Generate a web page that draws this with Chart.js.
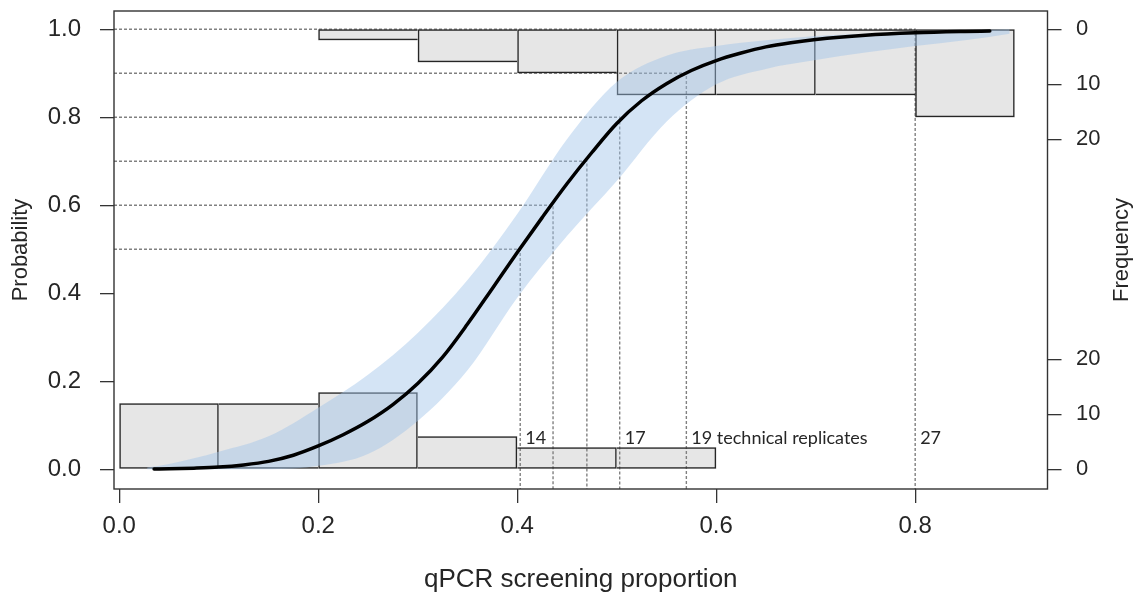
<!DOCTYPE html>
<html>
<head>
<meta charset="utf-8">
<script src="https://cdn.jsdelivr.net/npm/chart.js@4.4.1/dist/chart.umd.min.js"></script>
<style>
  html, body { margin: 0; padding: 0; background: #fff; }
  #wrap { width: 1137px; height: 608px; }
</style>
</head>
<body>
<div id="wrap"><canvas id="chart" width="1137" height="608"></canvas></div>
<script>
// Axis ticks
const propTicks = [0, 0.2, 0.4, 0.6, 0.8];
const probTicks = [0, 0.2, 0.4, 0.6, 0.8, 1.0];
const freqTicks = [0, 10, 20];

// Histogram of screening proportions: negatives (bottom) and positives (top)
const bottomBinStarts = [0.0, 0.1, 0.2, 0.3, 0.4, 0.5];
const bottomCounts = [12, 12, 14, 6, 4, 4];
const topBinStarts = [0.2, 0.3, 0.4, 0.5, 0.6, 0.7, 0.8];
const topCounts = [2, 6, 8, 12, 12, 12, 16];

// Fitted probability curve
const fitProp = [0.035, 0.05, 0.075, 0.1, 0.125, 0.15, 0.175, 0.2, 0.225, 0.25, 0.275, 0.3,
  0.325, 0.35, 0.375, 0.4, 0.425, 0.45, 0.475, 0.5, 0.525, 0.55, 0.575, 0.6, 0.625, 0.65,
  0.675, 0.7, 0.75, 0.8, 0.85, 0.875];
const fitProb = [0.0005, 0.001, 0.0025, 0.005, 0.01, 0.018, 0.032, 0.053, 0.0785, 0.109, 0.147, 0.195,
  0.255, 0.33, 0.411, 0.4925, 0.572, 0.649, 0.72, 0.786, 0.8376, 0.8765, 0.9064, 0.929, 0.946, 0.96,
  0.9696, 0.977, 0.9866, 0.992, 0.995, 0.996];

// Confidence band around the curve
const bandProp = [0.028, 0.05, 0.1, 0.15, 0.2, 0.25, 0.3, 0.35, 0.4, 0.45, 0.5, 0.55,
  0.6, 0.65, 0.7, 0.75, 0.8, 0.85, 0.895];
const bandUpper = [0.004, 0.012, 0.04, 0.075, 0.14, 0.215, 0.31, 0.43, 0.58, 0.75, 0.88, 0.94,
  0.962, 0.975, 0.985, 0.99, 0.995, 0.998, 1.0];
const bandLower = [0.0, 0.0, 0.0, 0.0, 0.008, 0.035, 0.11, 0.225, 0.39, 0.53, 0.655, 0.79,
  0.875, 0.91, 0.93, 0.947, 0.962, 0.975, 0.99];

// Reference probabilities and the proportion where the curve reaches each
const refProb = [0.5, 0.6, 0.7, 0.8, 0.9, 1.0];
const refProp = [0.403, 0.436, 0.47, 0.503, 0.57, 0.8];
const replicateProp = [0.403, 0.503, 0.57, 0.8];
const replicateText = ['14', '17', '19 technical replicates', '27'];

const X_MIN = -0.0053;
const X_MAX = 0.933;
const Y_MIN = -0.0448;
const Y_MAX = 1.0416;
const FREQ_SCALE = 80; // histogram counts per unit of probability
const LABEL_PROB = 0.071;
const BIN_WIDTH = 0.1;

const AXIS_COLOR = '#333333';
const TEXT_COLOR = '#262626';
const FONT = "'Liberation Sans', Arial, sans-serif";

Chart.defaults.font.family = FONT;

const toBars = (starts, counts, fromTop) => starts.map((s, i) => ({
  x: s + BIN_WIDTH / 2,
  y: fromTop ? [FREQ_SCALE - counts[i], FREQ_SCALE] : [0, counts[i]]
}));

// Draw each shared edge once, on the taller of the two neighbours.
const outlineWidths = (counts, w) => (ctx) => {
  const i = ctx.dataIndex;
  const last = counts.length - 1;
  return {
    top: w,
    bottom: w,
    left: (i === 0 || counts[i - 1] < counts[i]) ? w : 0,
    right: (i === last || counts[i + 1] <= counts[i]) ? w : 0
  };
};

const barBase = {
  type: 'bar',
  yAxisID: 'yf',
  grouped: false,
  barPercentage: 1,
  categoryPercentage: 1,
  borderSkipped: false
};

const fillBars = (starts, counts, fromTop) => ({
  ...barBase,
  data: toBars(starts, counts, fromTop),
  backgroundColor: '#e6e6e6',
  borderWidth: 0,
  order: 6
});

const outlineBars = (starts, counts, fromTop) => ({
  ...barBase,
  data: toBars(starts, counts, fromTop),
  backgroundColor: 'rgba(0,0,0,0)',
  borderColor: '#262626',
  borderWidth: outlineWidths(counts, 1.5),
  inflateAmount: 0,
  order: 4
});

const refLines = refProb.map((p, i) => ({
  type: 'line',
  yAxisID: 'y',
  data: [{ x: X_MIN, y: p }, { x: refProp[i], y: p }, { x: refProp[i], y: Y_MIN }],
  borderColor: '#808080',
  borderWidth: 1.4,
  borderDash: [3, 2],
  pointRadius: 0,
  tension: 0,
  order: 5
}));

const bandColor = 'rgba(160, 196, 232, 0.45)';

const datasets = [
  fillBars(bottomBinStarts, bottomCounts, false),
  fillBars(topBinStarts, topCounts, true),
  ...refLines,
  outlineBars(bottomBinStarts, bottomCounts, false),
  outlineBars(topBinStarts, topCounts, true),
  {
    type: 'line',
    yAxisID: 'y',
    data: bandProp.map((x, i) => ({ x, y: bandUpper[i] })),
    borderColor: 'rgba(0,0,0,0)',
    borderWidth: 0,
    backgroundColor: bandColor,
    fill: '+1',
    pointRadius: 0,
    cubicInterpolationMode: 'monotone',
    order: 2
  },
  {
    type: 'line',
    yAxisID: 'y',
    data: bandProp.map((x, i) => ({ x, y: bandLower[i] })),
    borderColor: 'rgba(0,0,0,0)',
    borderWidth: 0,
    fill: false,
    pointRadius: 0,
    cubicInterpolationMode: 'monotone',
    order: 2
  },
  {
    type: 'line',
    yAxisID: 'y',
    data: fitProp.map((x, i) => ({ x, y: fitProb[i] })),
    borderColor: '#000000',
    borderWidth: 3.5,
    borderCapStyle: 'round',
    borderJoinStyle: 'round',
    pointRadius: 0,
    fill: false,
    cubicInterpolationMode: 'monotone',
    order: 1
  }
];

const fixedTicks = (values) => (scale) => {
  scale.ticks = values.map((value) => ({ value }));
};

const tickGrid = {
  drawOnChartArea: false,
  drawTicks: true,
  offset: false,
  tickLength: 14,
  color: AXIS_COLOR,
  lineWidth: 1.3
};

// White background, plot frame, replicate labels and the right-hand title.
const framePlugin = {
  id: 'frame',
  beforeDraw(chart) {
    const { ctx } = chart;
    ctx.save();
    ctx.fillStyle = '#ffffff';
    ctx.fillRect(0, 0, chart.width, chart.height);
    ctx.restore();
  },
  afterDatasetsDraw(chart) {
    const { ctx, chartArea: a, scales } = chart;
    ctx.save();
    ctx.strokeStyle = AXIS_COLOR;
    ctx.lineWidth = 1.4;
    ctx.strokeRect(a.left, a.top, a.right - a.left, a.bottom - a.top);

    ctx.fillStyle = TEXT_COLOR;
    ctx.font = "18px Lato, 'Open Sans', sans-serif";
    ctx.textBaseline = 'middle';
    ctx.textAlign = 'left';
    replicateProp.forEach((p, i) => {
      ctx.fillText(replicateText[i], scales.x.getPixelForValue(p) + 5, scales.y.getPixelForValue(LABEL_PROB));
    });
    ctx.restore();
  },
  afterDraw(chart) {
    const { ctx, chartArea: a } = chart;
    const yf = chart.scales.yf;
    ctx.save();
    ctx.translate(yf.right - 15, (a.top + a.bottom) / 2);
    ctx.rotate(-Math.PI / 2);
    ctx.fillStyle = TEXT_COLOR;
    ctx.font = `22px ${FONT}`;
    ctx.textAlign = 'center';
    ctx.textBaseline = 'middle';
    ctx.fillText('Frequency', 0, 0);
    ctx.restore();
  }
};

new Chart(document.getElementById('chart'), {
  type: 'line',
  data: { datasets },
  options: {
    responsive: false,
    animation: false,
    events: [],
    layout: { padding: { top: 11, left: 0, right: 0, bottom: 0 }, autoPadding: false },
    plugins: { legend: { display: false }, tooltip: { enabled: false } },
    scales: {
      x: {
        type: 'linear',
        position: 'bottom',
        min: X_MIN,
        max: X_MAX,
        offset: false,
        bounds: 'data',
        afterBuildTicks: fixedTicks(propTicks),
        afterFit: (s) => { s.height = 119; s.paddingLeft = 0; s.paddingRight = 0; },
        grid: tickGrid,
        border: { display: false },
        ticks: {
          autoSkip: false,
          maxRotation: 0,
          padding: 9,
          color: TEXT_COLOR,
          font: { size: 24 },
          callback: (v) => Number(v).toFixed(1)
        },
        title: {
          display: true,
          text: 'qPCR screening proportion',
          color: TEXT_COLOR,
          font: { size: 26 },
          padding: { top: 0, bottom: 13 }
        }
      },
      y: {
        type: 'linear',
        position: 'left',
        min: Y_MIN,
        max: Y_MAX,
        bounds: 'data',
        afterBuildTicks: fixedTicks(probTicks),
        afterFit: (s) => { s.width = 114; s.paddingTop = 0; s.paddingBottom = 0; },
        grid: tickGrid,
        border: { display: false },
        ticks: {
          autoSkip: false,
          padding: 19,
          color: TEXT_COLOR,
          font: { size: 24 },
          callback: (v) => Number(v).toFixed(1)
        },
        title: {
          display: true,
          text: 'Probability',
          color: TEXT_COLOR,
          font: { size: 22 },
          padding: { top: 8, bottom: 0 }
        }
      },
      yf: {
        type: 'linear',
        position: 'right',
        min: Y_MIN * FREQ_SCALE,
        max: Y_MAX * FREQ_SCALE,
        bounds: 'data',
        afterBuildTicks: fixedTicks([...freqTicks, ...freqTicks.map((f) => FREQ_SCALE - f)]),
        afterFit: (s) => { s.width = 89.5; s.paddingTop = 0; s.paddingBottom = 0; },
        grid: tickGrid,
        border: { display: false },
        ticks: {
          autoSkip: false,
          padding: 14.5,
          color: TEXT_COLOR,
          font: { size: 22 },
          callback: (v) => String(Math.round(v > FREQ_SCALE / 2 ? FREQ_SCALE - v : v))
        }
      }
    }
  },
  plugins: [framePlugin]
});
</script>
</body>
</html>
